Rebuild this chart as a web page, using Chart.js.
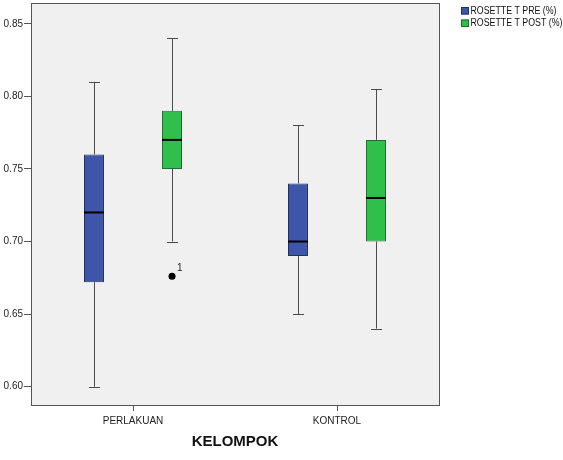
<!DOCTYPE html>
<html lang="en">
<head>
    <meta charset="UTF-8">
    <title>Rosette T boxplot</title>
    <script src="https://cdn.jsdelivr.net/npm/chart.js"></script>
    <style>
        body { margin: 0; background: #fff; }
        .chart-box { position: relative; width: 563px; height: 460px; }
    </style>
</head>
<body>
    <div class="chart-box">
        <canvas id="boxChart"></canvas>
    </div>

    <script>
        // Data
        const categories = ['PERLAKUAN', 'KONTROL'];
        const seriesNames = ['ROSETTE T PRE (%)', 'ROSETTE T POST (%)'];

        const preMin = [0.600, 0.650];
        const preQ1  = [0.672, 0.690];
        const preMed = [0.720, 0.700];
        const preQ3  = [0.760, 0.740];
        const preMax = [0.810, 0.780];

        const postMin = [0.700, 0.640];
        const postQ1  = [0.750, 0.700];
        const postMed = [0.770, 0.730];
        const postQ3  = [0.790, 0.770];
        const postMax = [0.840, 0.805];

        // outlier of the POST series
        const outlierCat = [0];
        const outlierVal = [0.676];
        const outlierLabel = ['1'];

        const yTicks = [0.60, 0.65, 0.70, 0.75, 0.80, 0.85];

        const boxStats = [
            { min: preMin, med: preMed, max: preMax },
            { min: postMin, med: postMed, max: postMax }
        ];

        // plot background + frame + legend
        const frame = {
            id: 'frame',
            beforeDraw(chart) {
                const { ctx, chartArea: a } = chart;
                ctx.save();
                ctx.fillStyle = '#f0f0f0';
                ctx.fillRect(a.left, a.top, a.right - a.left, a.bottom - a.top);
                ctx.restore();
            },
            afterDraw(chart) {
                const { ctx, chartArea: a } = chart;
                ctx.save();
                ctx.strokeStyle = '#555';
                ctx.lineWidth = 1;
                ctx.strokeRect(a.left + 0.5, a.top + 0.5, a.right - a.left, a.bottom - a.top - 1);

                // legend (text squeezed a little, like the original)
                chart.data.datasets.forEach((ds, i) => {
                    const y = 7 + i * 12.5;
                    ctx.fillStyle = ds.backgroundColor;
                    ctx.fillRect(461, y, 8, 7.5);
                    ctx.strokeStyle = ds.borderColor;
                    ctx.strokeRect(461.5, y + 0.5, 7, 6.5);
                    ctx.save();
                    ctx.translate(470.5, y + 4);
                    ctx.scale(0.88, 1);
                    ctx.font = '10px "Liberation Sans", Arial, sans-serif';
                    ctx.textBaseline = 'middle';
                    ctx.fillStyle = '#111';
                    ctx.fillText(ds.label, 0, 0);
                    ctx.restore();
                });
                ctx.restore();
            }
        };

        // whiskers, medians and outliers on top of the floating bars
        const boxParts = {
            id: 'boxParts',
            afterDatasetsDraw(chart) {
                const { ctx } = chart;
                const y = chart.scales.y;
                ctx.save();
                boxStats.forEach((st, i) => {
                    const meta = chart.getDatasetMeta(i);
                    meta.data.forEach((bar, j) => {
                        const x = Math.round(bar.x) + 0.5;
                        const half = bar.width / 2;
                        const range = chart.data.datasets[i].data[j];
                        ctx.strokeStyle = '#4a4a4a';
                        ctx.lineWidth = 1;
                        ctx.beginPath();
                        ctx.moveTo(x, y.getPixelForValue(st.max[j]));
                        ctx.lineTo(x, y.getPixelForValue(range[1]));
                        ctx.moveTo(x, y.getPixelForValue(range[0]));
                        ctx.lineTo(x, y.getPixelForValue(st.min[j]));
                        [st.max[j], st.min[j]].forEach(v => {
                            const py = Math.round(y.getPixelForValue(v)) + 0.5;
                            ctx.moveTo(x - 5.5, py);
                            ctx.lineTo(x + 5.5, py);
                        });
                        ctx.stroke();

                        ctx.strokeStyle = '#000';
                        ctx.lineWidth = 2;
                        ctx.beginPath();
                        const my = y.getPixelForValue(st.med[j]);
                        ctx.moveTo(bar.x - half, my);
                        ctx.lineTo(bar.x + half, my);
                        ctx.stroke();
                    });
                });

                const postMeta = chart.getDatasetMeta(1);
                outlierVal.forEach((v, k) => {
                    const bar = postMeta.data[outlierCat[k]];
                    const py = y.getPixelForValue(v);
                    ctx.fillStyle = '#000';
                    ctx.beginPath();
                    ctx.arc(bar.x, py, 3.5, 0, Math.PI * 2);
                    ctx.fill();
                    ctx.fillStyle = '#222';
                    ctx.font = '10px "Liberation Sans", Arial, sans-serif';
                    ctx.textBaseline = 'middle';
                    ctx.fillText(outlierLabel[k], bar.x + 5, py - 8);
                });
                ctx.restore();
            }
        };

        const ctx = document.getElementById('boxChart').getContext('2d');
        const boxChart = new Chart(ctx, {
            type: 'bar',
            data: {
                labels: categories,
                datasets: [
                    {
                        label: seriesNames[0],
                        data: categories.map((c, i) => [preQ1[i], preQ3[i]]),
                        backgroundColor: '#3f55a9',
                        borderColor: '#22305e',
                        borderWidth: 1,
                        borderSkipped: false
                    },
                    {
                        label: seriesNames[1],
                        data: categories.map((c, i) => [postQ1[i], postQ3[i]]),
                        backgroundColor: '#2fbf4a',
                        borderColor: '#1f6e30',
                        borderWidth: 1,
                        borderSkipped: false
                    }
                ]
            },
            options: {
                responsive: true,
                maintainAspectRatio: false,
                animation: false,
                categoryPercentage: 0.765,
                barPercentage: 0.256,
                layout: { padding: { top: 3, right: 124, left: 0, bottom: 0 } },
                plugins: {
                    legend: { display: false },
                    tooltip: { enabled: false }
                },
                scales: {
                    x: {
                        grid: { offset: false, drawOnChartArea: false, tickLength: 5, color: '#555' },
                        border: { display: false },
                        ticks: {
                            color: '#222',
                            padding: 4,
                            font: { family: '"Liberation Sans", Arial, sans-serif', size: 10 }
                        },
                        title: {
                            display: true,
                            text: 'KELOMPOK',
                            color: '#111',
                            padding: { bottom: 9 },
                            font: { family: '"Liberation Sans", Arial, sans-serif', size: 15, weight: 'bold' }
                        },
                        afterFit(scale) {
                            scale.height = 54;
                            scale.paddingLeft = 0;
                            scale.paddingRight = 0;
                        }
                    },
                    y: {
                        min: 0.5867,
                        max: 0.8643,
                        grid: { drawOnChartArea: false, tickLength: 7, color: '#555' },
                        border: { display: false },
                        ticks: {
                            color: '#222',
                            padding: 1,
                            font: { family: '"Liberation Sans", Arial, sans-serif', size: 10 },
                            callback: v => v.toFixed(2)
                        },
                        afterBuildTicks(scale) {
                            scale.ticks = yTicks.map(v => ({ value: v }));
                        },
                        afterFit(scale) {
                            scale.width = 31;
                            scale.paddingTop = 0;
                            scale.paddingBottom = 0;
                        }
                    }
                }
            },
            plugins: [frame, boxParts]
        });
    </script>
</body>
</html>
